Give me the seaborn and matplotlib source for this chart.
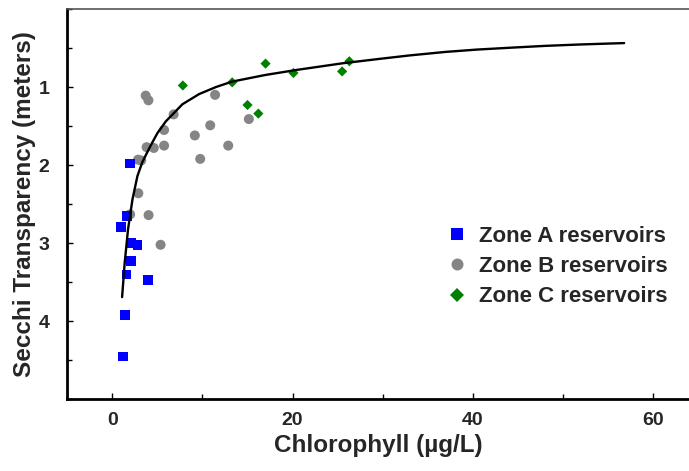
import numpy as np
import pandas as pd
import matplotlib
matplotlib.use("Agg")
import matplotlib.pyplot as plt
from matplotlib.ticker import MultipleLocator
import seaborn as sns

# Datos
zone_a_chl = [1.93, 1.63, 1.0, 2.06, 2.78, 2.04, 1.56, 4.0, 1.44, 1.22]
zone_a_secchi = [1.98, 2.65, 2.79, 3.0, 3.02, 3.23, 3.40, 3.47, 3.92, 4.45]

zone_b_chl = [3.7, 4.0, 11.4, 6.8, 5.74, 10.86, 9.15, 15.15, 3.8, 4.6,
              5.74, 12.86, 9.75, 2.85, 3.2, 2.88, 1.97, 4.02, 5.35]
zone_b_secchi = [1.11, 1.17, 1.10, 1.35, 1.55, 1.49, 1.62, 1.41, 1.77, 1.78,
                 1.75, 1.75, 1.92, 1.93, 1.94, 2.36, 2.63, 2.64, 3.02]

zone_c_chl = [7.82, 13.3, 17.0, 20.1, 15.0, 16.2, 25.5, 26.3]
zone_c_secchi = [0.98, 0.94, 0.70, 0.82, 1.23, 1.34, 0.80, 0.67]

# Curva de ajuste
curve_chl = [1.08, 1.37, 1.74, 2.23, 2.78, 3.33, 4.2, 5.0, 5.93, 7.78, 9.63, 11.5,
             13.3, 17.0, 20.5, 25.6, 29.6, 33.0, 37.0, 40.5, 44.4, 48.0, 51.9, 56.8]
curve_secchi = [3.69, 3.25, 2.82, 2.44, 2.14, 1.96, 1.76, 1.59, 1.44, 1.22, 1.09, 1.0,
                0.93, 0.845, 0.78, 0.695, 0.64, 0.595, 0.55, 0.52, 0.495, 0.473, 0.455, 0.437]

labels = ["Zone A reservoirs", "Zone B reservoirs", "Zone C reservoirs"]

df = pd.concat([
    pd.DataFrame({"chl": zone_b_chl, "secchi": zone_b_secchi, "zone": labels[1]}),
    pd.DataFrame({"chl": zone_c_chl, "secchi": zone_c_secchi, "zone": labels[2]}),
    pd.DataFrame({"chl": zone_a_chl, "secchi": zone_a_secchi, "zone": labels[0]}),
], ignore_index=True)

sns.set_style("white")
plt.rcParams["font.family"] = ["Liberation Sans", "DejaVu Sans"]
plt.rcParams["font.weight"] = "bold"

fig = plt.figure(figsize=(6.89, 4.71), dpi=100)
ax = fig.add_axes([0.0977, 0.152, 0.9023, 0.829])

palette = {labels[0]: "#0000FF", labels[1]: "#858585", labels[2]: "#008000"}
markers = {labels[0]: "s", labels[1]: "o", labels[2]: "D"}
sizes = {labels[0]: 50, labels[1]: 52, labels[2]: 27}

sns.scatterplot(data=df, x="chl", y="secchi", hue="zone", style="zone", size="zone",
                hue_order=labels, style_order=labels, size_order=labels,
                palette=palette, markers=markers, sizes=sizes,
                linewidth=0, ax=ax)
sns.lineplot(x=curve_chl, y=curve_secchi, color="black", linewidth=1.7,
             sort=False, ax=ax, zorder=3)

ax.set_xlim(-5, 64)
ax.set_ylim(5, 0)
ax.xaxis.set_major_locator(MultipleLocator(20))
ax.xaxis.set_minor_locator(MultipleLocator(10))
ax.set_yticks([1, 2, 3, 4])
ax.yaxis.set_minor_locator(MultipleLocator(0.5))
ax.tick_params(which="both", direction="in", bottom=True, left=True,
               width=1, color="black", labelsize=14)
ax.tick_params(which="major", length=4.5)
ax.tick_params(which="minor", length=3.5)
ax.tick_params(axis="x", pad=9.4)
ax.tick_params(axis="y", pad=13)

ax.set_xlabel("Chlorophyll (\u00b5g/L)", fontsize=17.5, fontweight="bold", labelpad=3)
ax.set_ylabel("Secchi Transparency (meters)", fontsize=17.5, fontweight="bold", labelpad=2)

for side in ["left", "bottom"]:
    ax.spines[side].set_color("black")
    ax.spines[side].set_linewidth(2)
ax.spines["top"].set_color("#555555")
ax.spines["top"].set_linewidth(1.2)
ax.spines["right"].set_visible(False)

sns.move_legend(ax, loc="center left", bbox_to_anchor=(0.647, 0.434),
                bbox_transform=fig.transFigure, frameon=False, title=None,
                fontsize=16, handlelength=1.0, handletextpad=0.5,
                labelspacing=0.42, borderpad=0, borderaxespad=0)
leg = ax.get_legend()
for h, ms in zip(leg.legend_handles, [8.6, 8.6, 7.4]):
    h.set_markersize(ms)

fig.savefig("out.png", dpi=100)
